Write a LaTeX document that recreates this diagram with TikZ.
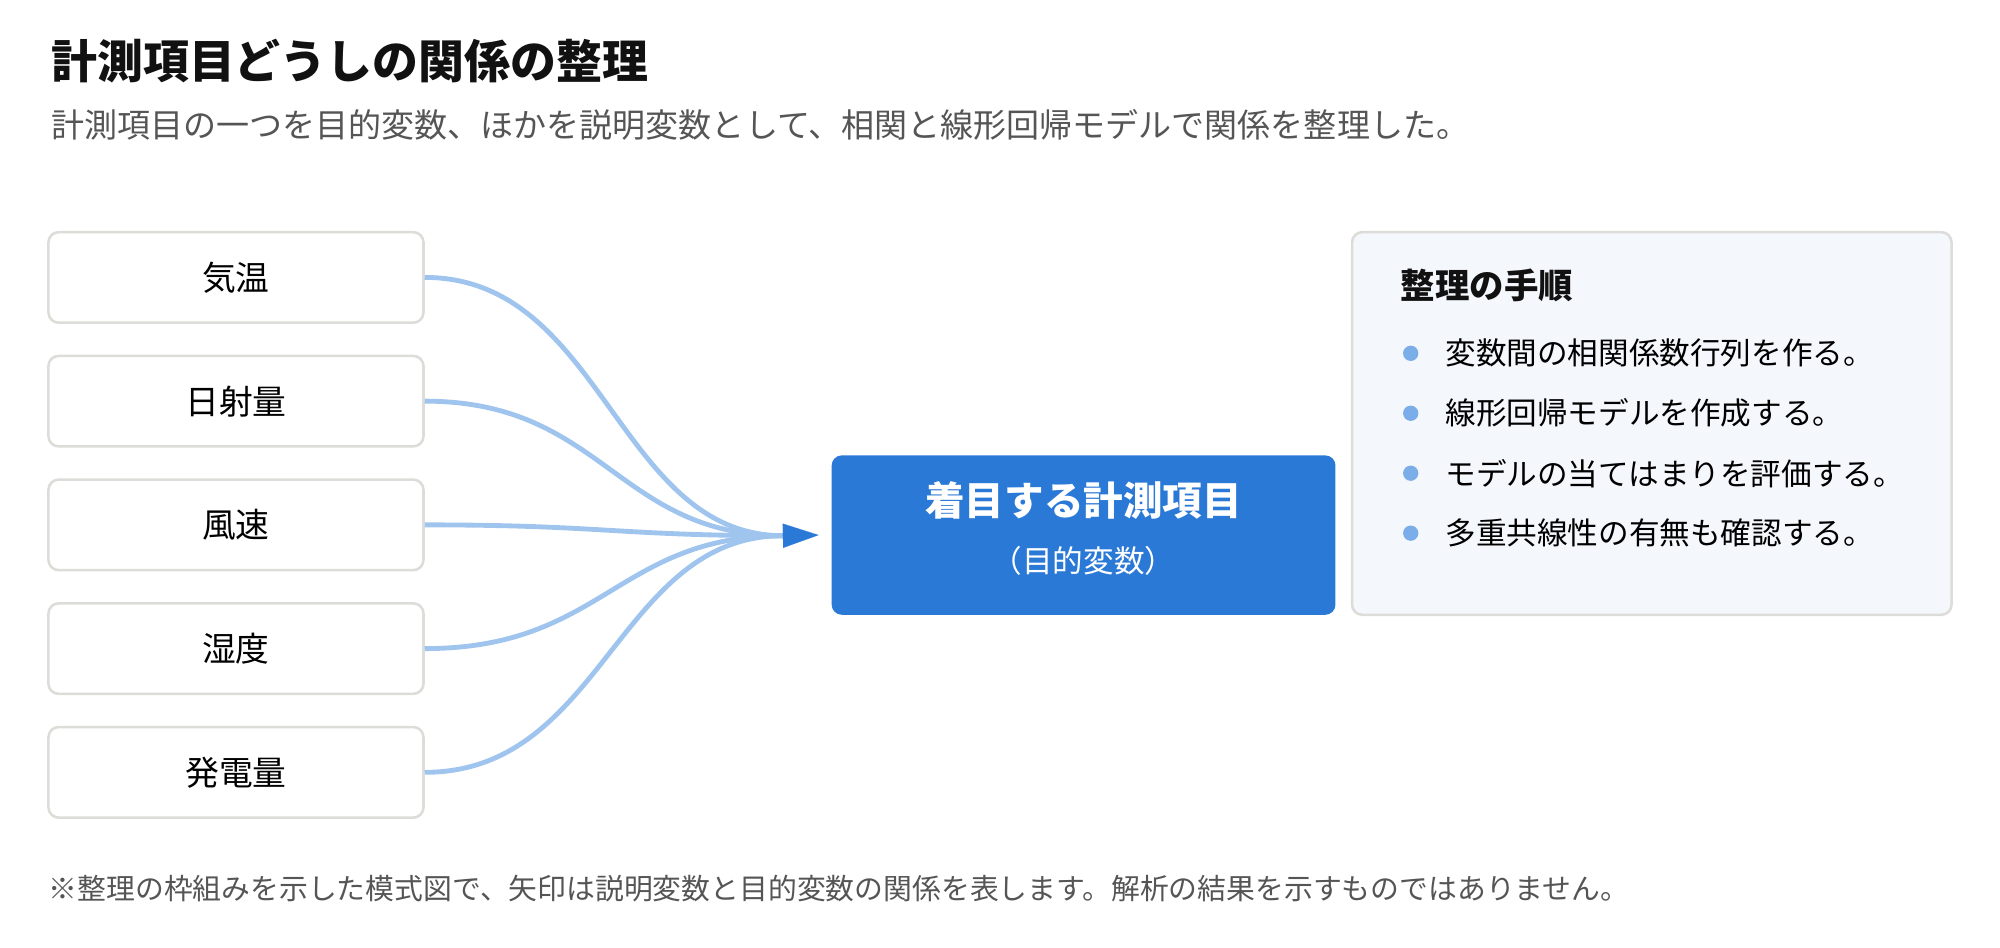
\documentclass[tikz,border=0pt]{standalone}
\usepackage{fontspec}
\setmainfont{Noto Sans CJK JP}
\usetikzlibrary{arrows.meta,calc}
\definecolor{boxborder}{HTML}{DCDCD8}
\definecolor{curveblue}{HTML}{9FC5EE}
\definecolor{mainblue}{HTML}{2B79D6}
\definecolor{panelfill}{HTML}{F4F7FC}
\definecolor{bulletblue}{HTML}{7BAEE8}
\definecolor{greytext}{HTML}{555555}
\definecolor{titletext}{HTML}{111111}
\tikzset{
  varbox/.style={draw=boxborder, line width=2pt, fill=white, rounded corners=8pt,
    minimum width=294pt, minimum height=71pt, inner sep=0pt,
    font=\fontsize{26.5}{30}\selectfont, text=black},
  goalbox/.style={fill=mainblue, rounded corners=8pt, minimum width=395pt,
    minimum height=125pt, inner sep=0pt},
  panelbox/.style={draw=boxborder, line width=2pt, fill=panelfill, rounded corners=8pt,
    minimum width=470pt, minimum height=300pt, inner sep=0pt},
  link/.style={draw=curveblue, line width=3.8pt},
  itemtext/.style={anchor=west, inner sep=0pt, font=\fontsize{24}{28}\selectfont, text=black},
  bulletdot/.style={circle, fill=bulletblue, minimum size=12pt, inner sep=0pt},
}
\begin{document}
\begin{tikzpicture}[x=1pt,y=-1pt]
\useasboundingbox (0,0) rectangle (1568,743.2);
% title and subtitle
\node[anchor=west, inner sep=0pt, font=\fontsize{36}{40}\selectfont\bfseries, text=titletext] (title) at (40,48) {計測項目どうしの関係の整理};
\node[anchor=west, inner sep=0pt, font=\fontsize{25.9}{30}\selectfont, text=greytext] (subtitle) at (40,98) {計測項目の一つを目的変数、ほかを説明変数として、相関と線形回帰モデルで関係を整理した。};
% explanatory variables
\node[varbox] (b1) at (185,217.5) {気温};
\node[varbox] (b2) at (185,314.5) {日射量};
\node[varbox] (b3) at (185,411.5) {風速};
\node[varbox] (b4) at (185,508.5) {湿度};
\node[varbox] (b5) at (185,605.5) {発電量};
% target
\node[goalbox] (goal) at (849.5,419.5) {};
\node[inner sep=0pt, text=white, font=\fontsize{31}{36}\selectfont\bfseries] (goalt) at (849.5,392) {着目する計測項目};
\node[inner sep=0pt, text=white, font=\fontsize{24}{28}\selectfont] (goals) at (849.5,440) {（目的変数）};
\coordinate (tip) at (614,420);
% connectors
\foreach \b in {b1,b2,b3,b4,b5}{
  \draw[link] (\b.east) .. controls ($(\b.east)+(140,0)$) and ($(tip)+(-130,0)$) .. (tip);
}
\draw[-{Triangle[length=28pt,width=19pt]}, draw=mainblue, fill=mainblue, line width=0.1pt] (tip) -- ($(goal.west)+(-10,0)$);
% panel
\node[panelbox] (panel) at (1295,332) {};
\node[anchor=west, inner sep=0pt, font=\fontsize{27}{32}\selectfont\bfseries, text=titletext] (ph) at (1098,224) {整理の手順};
\node[bulletdot] (d1) at (1106,277) {};
\node[itemtext] (i1) at (1133,277) {変数間の相関係数行列を作る。};
\node[bulletdot] (d2) at (1106,324) {};
\node[itemtext] (i2) at (1133,324) {線形回帰モデルを作成する。};
\node[bulletdot] (d3) at (1106,371) {};
\node[itemtext] (i3) at (1133,371) {モデルの当てはまりを評価する。};
\node[bulletdot] (d4) at (1106,418) {};
\node[itemtext] (i4) at (1133,418) {多重共線性の有無も確認する。};
% footnote
\node[anchor=west, inner sep=0pt, font=\fontsize{22.6}{26}\selectfont, text=greytext] (foot) at (38,697) {※整理の枠組みを示した模式図で、矢印は説明変数と目的変数の関係を表します。解析の結果を示すものではありません。};
\end{tikzpicture}
\end{document}
